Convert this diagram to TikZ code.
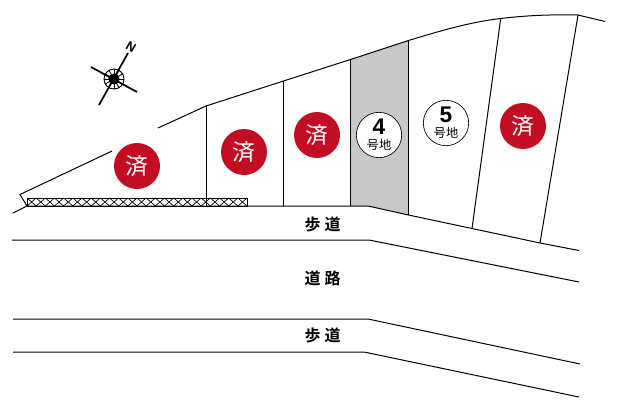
\documentclass[tikz,border=0pt]{standalone}
\usepackage{fontspec}
\setmainfont{Liberation Sans}
\newfontfamily\jpfont{Noto Sans CJK JP}
\newfontfamily\jpbold{Noto Sans CJK JP Bold}
\definecolor{soldred}{HTML}{C30D23}
\definecolor{lotgray}{HTML}{C8C8C8}
\tikzstyle{sold}=[fill=soldred,text=white,shape=circle,minimum size=34.5pt,inner sep=0pt,font=\jpfont\fontsize{17}{17}\selectfont]
\tikzstyle{lot}=[draw,fill=white,shape=circle,line width=0.5pt,minimum size=34pt,inner sep=0pt,align=center]
\tikzstyle{walk}=[inner sep=0pt,font=\jpbold\fontsize{12}{12}\selectfont]
\tikzstyle{edge}=[line width=0.75pt]
\newcommand{\lotlabel}[1]{{\bfseries\fontsize{17}{15}\selectfont #1}\\[-0.5pt]{\jpfont\fontsize{9.2}{9}\selectfont 号地}}
\begin{document}
\begin{tikzpicture}[x=0.75pt,y=-0.75pt]
\useasboundingbox (0,0) rectangle (617,407);
% lot 4
\fill[lotgray] (350.5,59.5) -- (408.5,40.5) -- (408.5,215) -- (368,206) -- (350.5,206) -- cycle;
% boundary
\draw[edge] (112,151) -- (20,194.5) -- (27,206) -- (13,213);
\draw[edge] (158,128) -- (206,106) -- (283.5,81) -- (350.5,59.5) -- (408.5,40.5) .. controls (440,31) and (470,22) .. (500.7,18.5) .. controls (530,15) and (555,14.5) .. (578,15) -- (605,21.5);
\draw[edge] (27,206) -- (368,206) -- (408.5,215) -- (472,228.5) -- (540,243) -- (579,250.5);
% lot lines
\draw[edge] (206,106) -- (206,206);
\draw[edge] (283.5,81) -- (283.5,206);
\draw[edge] (350.5,59.5) -- (350.5,206);
\draw[edge] (408.5,40.5) -- (408.5,215);
\draw[edge] (500.7,18.5) -- (472,228.5);
\draw[edge] (578,15) -- (540,243);
% hatch
\draw[line width=0.6pt] (27,198) rectangle (247,206);
\foreach \x in {0,...,23} {
  \draw[line width=0.5pt] ({27+\x*9.167},198) -- ({27+(\x+1)*9.167},206);
  \draw[line width=0.5pt] ({27+\x*9.167},206) -- ({27+(\x+1)*9.167},198);
}
% road
\draw[edge] (12,240) -- (369,240) -- (579,282);
\draw[edge] (13,319) -- (368,319) -- (580,364);
\draw[edge] (13,352) -- (364,352) -- (579,397);
% compass
\draw[line width=1.3pt] (99,105) -- (128,53);
\draw[line width=1.3pt] (91,67) -- (137,92);
\node[draw,shape=circle,line width=0.7pt,minimum size=15pt,inner sep=0pt] (Rose) at (114,79) {};
\foreach \a in {0,30,...,330} \draw[line width=0.6pt] (Rose.center) -- (Rose.\a);
\fill (Rose.center) circle (4.2pt);
\node[rotate=-30,inner sep=0pt,font=\bfseries\fontsize{9.5}{9.5}\selectfont] (North) at (131,47) {N};
% circles
\node[sold] (Sold1) at (137,166) {済};
\node[sold] (Sold2) at (244,152) {済};
\node[sold] (Sold3) at (317,135) {済};
\node[lot] (Lot4) at (379,135) {\lotlabel{4}};
\node[lot] (Lot5) at (446,123) {\lotlabel{5}};
\node[sold] (Sold6) at (523,126) {済};
% labels
\node[walk] (Walk1) at (322.5,224) {歩\kern3pt 道};
\node[walk] (Road) at (322.5,278) {道\kern3pt 路};
\node[walk] (Walk2) at (322.5,335) {歩\kern3pt 道};
\end{tikzpicture}
\end{document}
